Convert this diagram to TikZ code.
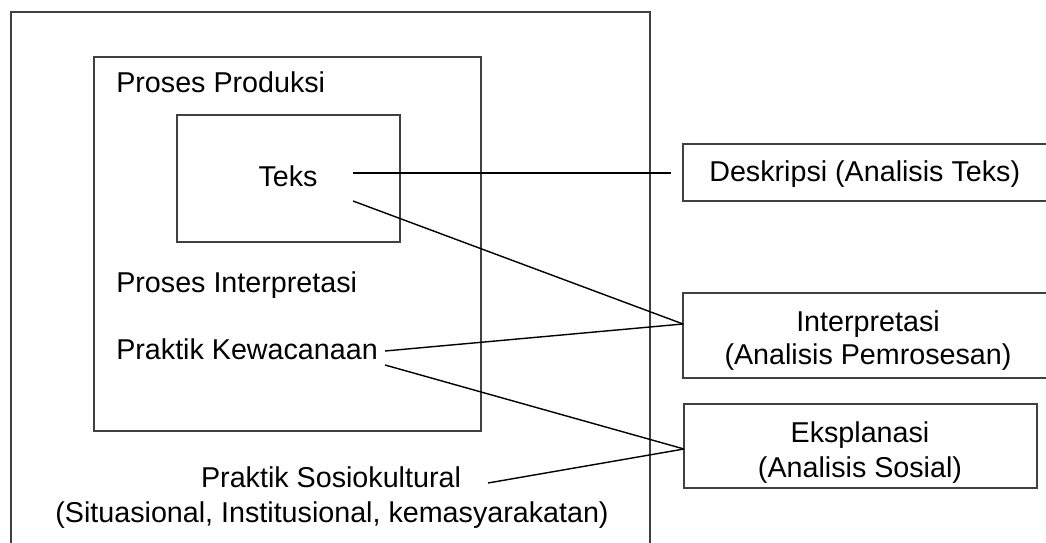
\documentclass[tikz,border=0pt]{standalone}
\usepackage{fontspec}
\setmainfont{Liberation Sans}
\usepackage{tikz}

\tikzset{
  frame/.style={draw=black!75, line width=0.8pt},
  link/.style={draw=black, line width=1pt},
  label/.style={inner sep=0pt, font=\fontsize{20.4}{23.5}\selectfont}
}

\begin{document}
\begin{tikzpicture}[x=0.025cm, y=-0.025cm]
    \useasboundingbox (0,0) rectangle (1046,543);
    \clip (0,0) rectangle (1046,543);
    % Frames
    \draw[frame] (11,12) rectangle (650,560); % sosiokultural
    \draw[frame] (94,57) rectangle (481,431); % kewacanaan
    \draw[frame] (177,115) rectangle (400,242); % teks
    % Analysis boxes
    \draw[frame] (683,144) rectangle (1053,201); % deskripsi
    \draw[frame] (683,293) rectangle (1053,378); % interpretasi
    \draw[frame] (684,404) rectangle (1037,488); % eksplanasi
    % Labels inside the frames
    \node[label, anchor=base west] (produksi) at (116,93) {Proses Produksi};
    \node[label, anchor=base] (teks) at (288,187) {Teks};
    \node[label, anchor=base west] (proses) at (116,293) {Proses Interpretasi};
    \node[label, anchor=base west] (kewacanaan) at (116,360) {Praktik Kewacanaan};
    \node[label, anchor=base] (sosio) at (331,487) {Praktik Sosiokultural};
    \node[label, anchor=base] (sosiosub) at (332,523)
      {(Situasional, Institusional, kemasyarakatan)};
    % Labels of the analysis boxes
    \node[label, anchor=base west] (deskripsi) at (709,182) {Deskripsi (Analisis Teks)};
    \node[label, anchor=base] (interp) at (868,332) {Interpretasi};
    \node[label, anchor=base] (interpsub) at (868,365) {(Analisis Pemrosesan)};
    \node[label, anchor=base] (eksp) at (860,443) {Eksplanasi};
    \node[label, anchor=base] (ekspsub) at (860,477) {(Analisis Sosial)};
    % Line ends
    \coordinate (teksA) at (353,173);
    \coordinate (teksB) at (353,201);
    \coordinate (kewA) at (385,351);
    \coordinate (kewB) at (385,365);
    \coordinate (sosioA) at (488,483);
    \coordinate (deskripsiL) at (671,173);
    \coordinate (interpL) at (683,324);
    \coordinate (ekspL) at (684,449);
    % Links
    \draw[link] (teksA) -- (deskripsiL);
    \draw[link] (teksB) -- (interpL);
    \draw[link] (kewA) -- (interpL);
    \draw[link] (kewB) -- (ekspL);
    \draw[link] (sosioA) -- (ekspL);
\end{tikzpicture}
\end{document}
